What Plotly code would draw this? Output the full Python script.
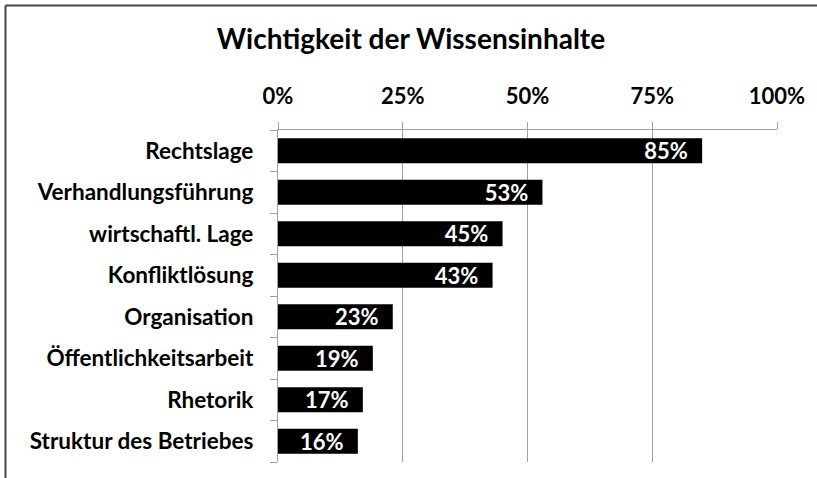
import plotly.graph_objects as go

categories = ["Rechtslage", "Verhandlungsführung", "wirtschaftl. Lage", "Konfliktlösung",
              "Organisation", "Öffentlichkeitsarbeit", "Rhetorik", "Struktur des Betriebes"]
values = [85, 53, 45, 43, 23, 19, 17, 16]
x_ticks = [0, 25, 50, 75, 100]
x_tick_labels = ["0%", "25%", "50%", "75%", "100%"]
title_text = "Wichtigkeit der Wissensinhalte"

FONT = "Lato"
GRID = "#a0a0a0"

fig = go.Figure(go.Bar(
    x=values,
    y=categories,
    orientation="h",
    marker=dict(color="black", line=dict(width=0)),
    text=[f"<b>{v}%</b>\u00a0\u00a0" for v in values],
    textposition="inside",
    insidetextanchor="end",
    constraintext="none",
    textfont=dict(family=FONT, size=22, color="white"),
    cliponaxis=False,
    hoverinfo="skip",
))

fig.update_layout(
    width=817, height=478,
    margin=dict(l=278, r=40, t=130, b=16),
    paper_bgcolor="white", plot_bgcolor="white",
    bargap=0.4,
    showlegend=False,
    title=dict(text=f"<b>{title_text}</b>", x=0.503, xanchor="center", y=0.918, yanchor="middle",
               font=dict(family=FONT, size=28, color="black")),
    xaxis=dict(
        side="top", range=[0, 100], tickvals=x_ticks, ticktext=[f"<b>{t}</b>" for t in x_tick_labels],
        showgrid=True, gridcolor=GRID, gridwidth=1.2,
        showline=True, linecolor=GRID, linewidth=1.2,
        ticks="outside", ticklen=7, tickcolor=GRID, tickwidth=1.2,
        tickfont=dict(family=FONT, size=22, color="black"),
        ticklabelstandoff=9,
        zeroline=False, fixedrange=True,
    ),
    yaxis=dict(
        autorange="reversed", tickvals=categories,
        ticktext=[f"<b>{c}</b>" for c in categories],
        showline=True, linecolor=GRID, linewidth=1.2,
        ticks="outside", ticklen=7, tickcolor=GRID, tickwidth=1.2,
        tickson="boundaries",
        tickfont=dict(family=FONT, size=22.5, color="black"),
        ticklabelstandoff=19,
        showgrid=False, zeroline=False, fixedrange=True,
    ),
)

# frame border at top and left of the picture (cut off at right and bottom)
fx = (5.5 - 278) / 499
fy = 1 + (130 - 5.5) / 332
fig.add_shape(type="line", xref="paper", yref="paper",
              x0=fx, x1=2, y0=fy, y1=fy,
              line=dict(color="#444444", width=2))
fig.add_shape(type="line", xref="paper", yref="paper",
              x0=fx, x1=fx, y0=-1, y1=fy,
              line=dict(color="#444444", width=2))

fig.write_html("out.html", config={"displayModeBar": False},
               post_script="document.body.style.margin='0';document.body.style.overflow='hidden';")
